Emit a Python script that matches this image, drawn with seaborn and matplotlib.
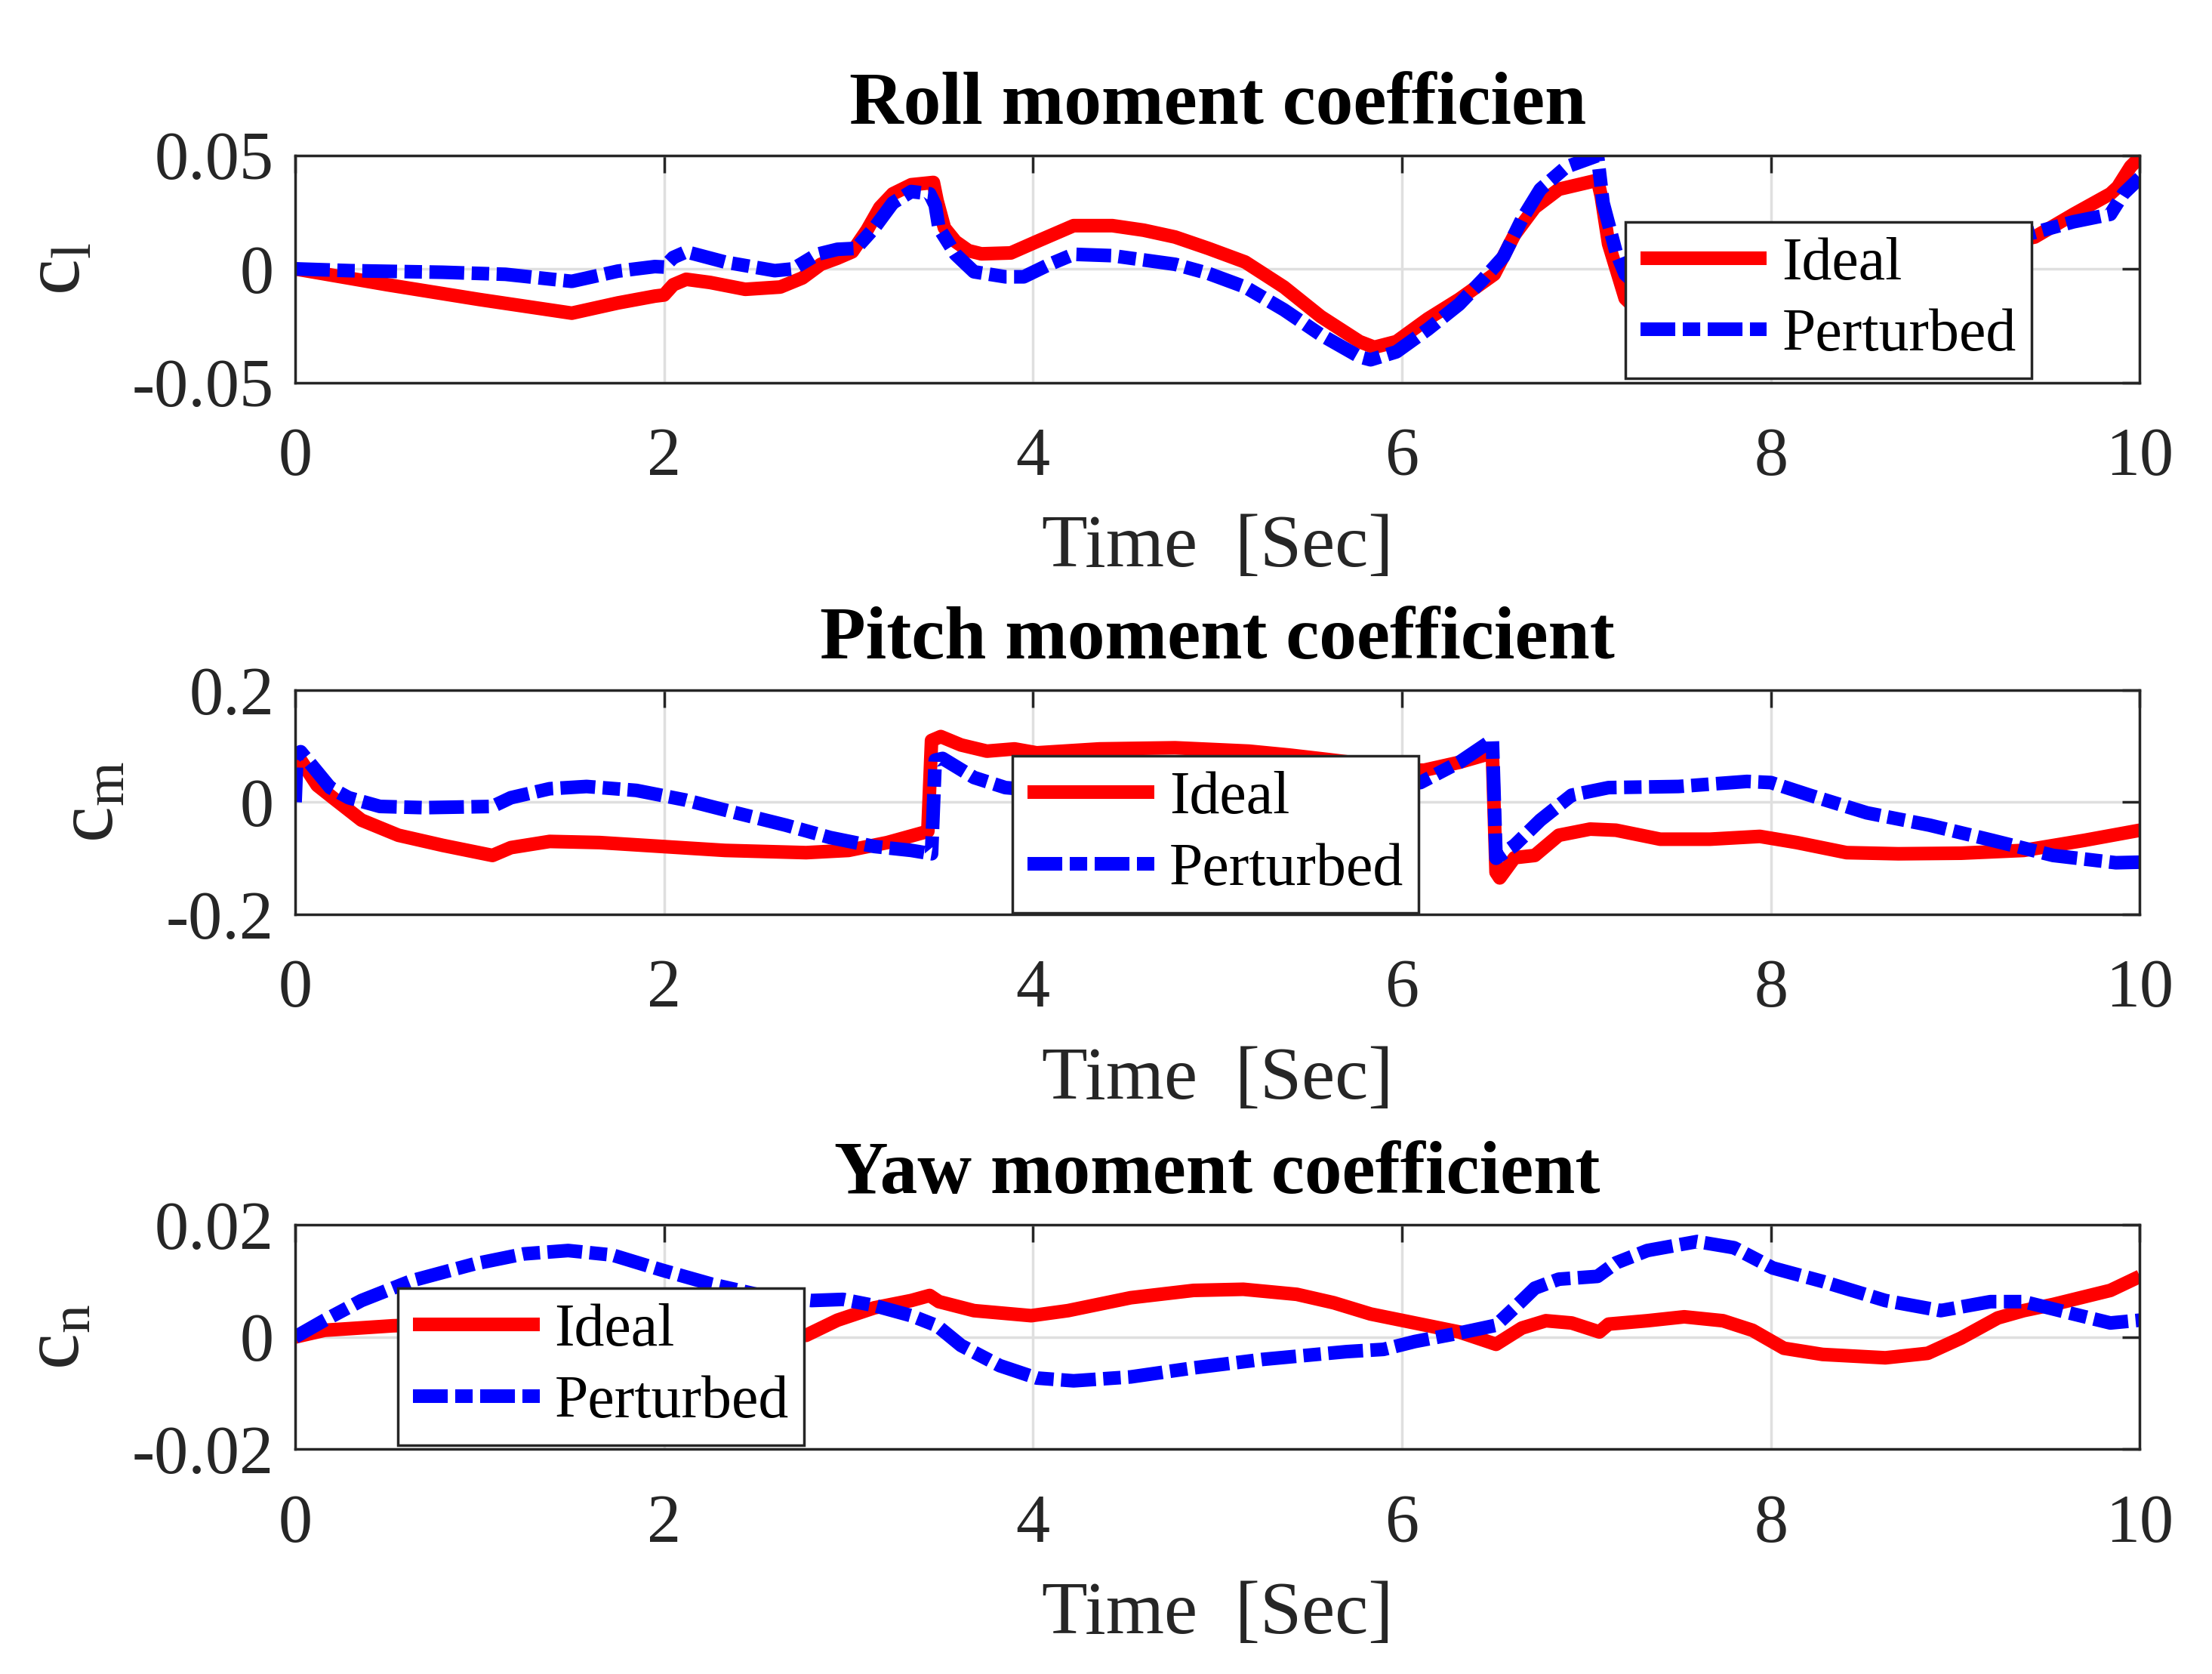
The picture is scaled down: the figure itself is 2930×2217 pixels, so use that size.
import numpy as np
import pandas as pd
import seaborn as sns
import matplotlib.pyplot as plt

# Roll moment coefficient (c_l)
roll_t_ideal = [0.0, 0.5, 1.0, 1.5, 1.75, 1.95, 2.0, 2.05, 2.12, 2.25, 2.44, 2.63, 2.75, 2.85, 2.94,
                3.02, 3.10, 3.17, 3.24, 3.34, 3.46, 3.48, 3.52, 3.58, 3.65, 3.72, 3.88, 4.02, 4.22,
                4.43, 4.6, 4.77, 4.95, 5.15, 5.36, 5.56, 5.77, 5.85, 5.97, 6.14, 6.31, 6.50, 6.61,
                6.72, 6.85, 7.06, 7.08, 7.12, 7.21, 7.3, 7.5, 8.0, 8.5, 9.0, 9.43, 9.64, 9.84, 9.88,
                9.95, 10.0]
roll_ideal = [0.0, -0.007, -0.0135, -0.0195, -0.015, -0.012, -0.0115, -0.007, -0.0046, -0.006,
              -0.009, -0.008, -0.004, 0.002, 0.0047, 0.0075, 0.017, 0.027, 0.033, 0.037, 0.038, 0.03,
              0.018, 0.012, 0.008, 0.0066, 0.007, 0.012, 0.019, 0.019, 0.017, 0.014, 0.009, 0.003,
              -0.008, -0.021, -0.032, -0.0345, -0.032, -0.022, -0.0134, -0.0024, 0.015, 0.027, 0.035,
              0.039, 0.032, 0.011, -0.013, -0.02, -0.021, -0.009, 0.0, 0.007, 0.014, 0.024, 0.033,
              0.036, 0.045, 0.049]
roll_t_pert = [0.0, 0.3, 0.8, 1.14, 1.5, 1.75, 1.95, 2.0, 2.05, 2.12, 2.33, 2.6, 2.7, 2.83, 2.94,
               3.04, 3.14, 3.24, 3.34, 3.44, 3.47, 3.49, 3.58, 3.68, 3.85, 3.95, 4.09, 4.22, 4.43,
               4.77, 4.95, 5.15, 5.36, 5.56, 5.77, 5.83, 5.97, 6.14, 6.31, 6.44, 6.55, 6.65, 6.75,
               6.89, 7.06, 7.09, 7.16, 7.21, 7.3, 7.6, 8.0, 8.5, 9.0, 9.43, 9.64, 9.84, 9.91, 10.0]
roll_pert = [0.0, -0.0008, -0.0015, -0.0024, -0.0055, -0.001, 0.001, 0.0008, 0.005, 0.0075, 0.003,
             -0.0008, 0.0, 0.0064, 0.0086, 0.009, 0.018, 0.029, 0.034, 0.033, 0.028, 0.018, 0.0064,
             -0.0013, -0.0035, -0.0035, 0.002, 0.0064, 0.0058, 0.002, -0.002, -0.008, -0.018, -0.029,
             -0.0387, -0.040, -0.0365, -0.0266, -0.0156, -0.0046, 0.0053, 0.0218, 0.035, 0.0448,
             0.0498, 0.029, 0.0075, -0.0024, -0.009, -0.010, -0.004, 0.003, 0.009, 0.016, 0.0207,
             0.024, 0.033, 0.040]

# Pitch moment coefficient (c_m)
pitch_t_ideal = [0.0, 0.03, 0.12, 0.22, 0.36, 0.56, 0.8, 1.07, 1.17, 1.38, 1.65, 1.99, 2.33, 2.77,
                 3.0, 3.21, 3.43, 3.45, 3.5, 3.61, 3.75, 3.9, 4.02, 4.36, 4.77, 5.17, 5.39, 5.6, 5.85,
                 6.0, 6.12, 6.31, 6.49, 6.51, 6.53, 6.61, 6.72, 6.85, 7.02, 7.16, 7.40, 7.67, 7.94,
                 8.14, 8.41, 8.69, 9.03, 9.37, 9.70, 10.0]
pitch_ideal = [0.065, 0.075, 0.03, 0.004, -0.032, -0.059, -0.077, -0.095, -0.081, -0.070, -0.072,
               -0.079, -0.086, -0.090, -0.086, -0.072, -0.052, 0.11, 0.117, 0.102, 0.091, 0.095,
               0.088, 0.095, 0.097, 0.091, 0.084, 0.076, 0.066, 0.058, 0.057, 0.071, 0.088, -0.125,
               -0.135, -0.099, -0.095, -0.059, -0.048, -0.05, -0.066, -0.066, -0.061, -0.072, -0.090,
               -0.092, -0.091, -0.086, -0.068, -0.05]
pitch_t_pert = [0.0, 0.01, 0.03, 0.09, 0.19, 0.29, 0.46, 0.7, 1.07, 1.17, 1.38, 1.58, 1.85, 2.12,
                2.39, 2.66, 2.9, 3.14, 3.34, 3.45, 3.47, 3.51, 3.68, 3.85, 4.2, 4.6, 5.0, 5.5, 5.9,
                6.1, 6.31, 6.49, 6.51, 6.61, 6.75, 6.92, 7.12, 7.5, 7.87, 8.0, 8.21, 8.52, 8.86, 9.2,
                9.53, 9.87, 10.0]
pitch_pert = [0.0, 0.085, 0.09, 0.066, 0.026, 0.008, -0.0076, -0.0098, -0.0076, 0.008, 0.024, 0.028,
              0.021, 0.0036, -0.019, -0.041, -0.063, -0.079, -0.086, -0.092, 0.075, 0.078, 0.044,
              0.026, 0.016, 0.012, 0.012, 0.018, 0.028, 0.035, 0.071, 0.111, -0.10, -0.077, -0.032,
              0.0125, 0.026, 0.028, 0.037, 0.035, 0.0125, -0.019, -0.041, -0.068, -0.095, -0.108,
              -0.107]

# Yaw moment coefficient (c_n)
yaw_t_ideal = [0.0, 0.16, 0.53, 1.0, 1.5, 2.0, 2.5, 2.77, 2.94, 3.14, 3.34, 3.44, 3.49, 3.68, 3.99,
               4.19, 4.53, 4.87, 5.14, 5.43, 5.63, 5.83, 6.04, 6.31, 6.51, 6.65, 6.78, 6.92, 7.07,
               7.12, 7.33, 7.53, 7.74, 7.9, 8.07, 8.28, 8.62, 8.85, 9.03, 9.23, 9.37, 9.53, 9.84, 10.0]
yaw_ideal = [0.0, 0.0012, 0.002, 0.0025, 0.0028, 0.0022, 0.001, 0.0003, 0.003, 0.0052, 0.0065, 0.0074,
             0.0063, 0.0047, 0.0038, 0.0047, 0.007, 0.0083, 0.0085, 0.0076, 0.0061, 0.0041, 0.0027,
             0.0009, -0.0013, 0.0016, 0.0029, 0.0025, 0.0009, 0.0023, 0.0029, 0.0036, 0.0029, 0.0012,
             -0.002, -0.0031, -0.0037, -0.0029, -0.0002, 0.0034, 0.0047, 0.0058, 0.0083, 0.0108]
yaw_t_pert = [0.0, 0.16, 0.36, 0.63, 0.97, 1.24, 1.48, 1.72, 1.99, 2.26, 2.53, 2.8, 2.97, 3.14, 3.34,
              3.48, 3.61, 3.82, 4.02, 4.22, 4.53, 4.87, 5.24, 5.7, 5.9, 6.07, 6.31, 6.51, 6.61, 6.72,
              6.85, 7.06, 7.16, 7.33, 7.6, 7.8, 8.01, 8.28, 8.62, 8.92, 9.19, 9.37, 9.64, 9.84, 10.0]
yaw_pert = [0.0, 0.003, 0.0065, 0.010, 0.013, 0.0148, 0.0154, 0.0146, 0.0119, 0.0094, 0.0074, 0.0065,
            0.0067, 0.0056, 0.0038, 0.002, -0.0015, -0.0051, -0.0073, -0.0078, -0.0071, -0.0055,
            -0.004, -0.0026, -0.0022, -0.0008, 0.0007, 0.0021, 0.0052, 0.0087, 0.0103, 0.0108, 0.0132,
            0.0154, 0.017, 0.0159, 0.0123, 0.0099, 0.0065, 0.0047, 0.0063, 0.0063, 0.0041, 0.0025,
            0.003]

titles = ['Roll moment coefficien', 'Pitch moment coefficient', 'Yaw moment coefficient']
ylabels = [r'$\mathrm{c_l}$', r'$\mathrm{c_m}$', r'$\mathrm{c_n}$']
ylims = [(-0.05, 0.05), (-0.2, 0.2), (-0.02, 0.02)]
yticks = [[-0.05, 0, 0.05], [-0.2, 0, 0.2], [-0.02, 0, 0.02]]
ytick_labels = [['-0.05', '0', '0.05'], ['-0.2', '0', '0.2'], ['-0.02', '0', '0.02']]
xticks = [0, 2, 4, 6, 8, 10]
xtick_labels = ['0', '2', '4', '6', '8', '10']
series_labels = ['Ideal', 'Perturbed']

sns.set_style('white')
plt.rcParams['font.family'] = ['Liberation Serif', 'DejaVu Serif']
plt.rcParams['mathtext.fontset'] = 'custom'
plt.rcParams['mathtext.rm'] = 'Liberation Serif'
plt.rcParams['mathtext.it'] = 'Liberation Serif:italic'

dark = '#262626'
lw = 5.2
dashdot = (0, (2.55, 0.55, 1.28, 0.55))
fig = plt.figure(figsize=(11.72, 8.868), dpi=250)

# 每个子图的位置 (figure fraction)
positions = [[0.1334, 0.7715, 0.834, 0.1358],
             [0.1334, 0.4538, 0.834, 0.1340],
             [0.1334, 0.1342, 0.834, 0.1342]]
legend_anchor = [(0.721, 0.018), (0.389, 0.007), (0.0557, 0.0185)]
label_x = [-0.1077, -0.0897, -0.108]

data = [
    (roll_t_ideal, roll_ideal, roll_t_pert, roll_pert),
    (pitch_t_ideal, pitch_ideal, pitch_t_pert, pitch_pert),
    (yaw_t_ideal, yaw_ideal, yaw_t_pert, yaw_pert),
]

for i, (ti, vi, tp, vp) in enumerate(data):
    ax = fig.add_axes(positions[i])
    sns.lineplot(x=ti, y=vi, ax=ax, color='#ff0000', label=series_labels[0],
                 estimator=None, sort=False)
    sns.lineplot(x=tp, y=vp, ax=ax, color='#0000ff', label=series_labels[1],
                 estimator=None, sort=False)
    # 线宽和线型在这里统一设置
    red_line, blue_line = ax.lines[0], ax.lines[1]
    red_line.set_linewidth(lw)
    red_line.set_solid_capstyle('butt')
    red_line.set_solid_joinstyle('round')
    blue_line.set_linewidth(lw)
    blue_line.set_linestyle(dashdot)
    blue_line.set_dash_capstyle('butt')

    ax.set_xlim(0, 10)
    ax.set_ylim(*ylims[i])
    ax.set_xticks(xticks)
    ax.set_xticklabels(xtick_labels)
    ax.set_yticks(yticks[i])
    ax.set_yticklabels(ytick_labels[i])
    ax.grid(True, color='#dfdfdf', linewidth=1.0)
    ax.set_axisbelow(True)
    ax.tick_params(direction='in', length=6.5, width=1.0, colors=dark, labelsize=26,
                   top=True, right=True)
    ax.tick_params(axis='x', pad=17)
    ax.tick_params(axis='y', pad=8)
    for s in ax.spines.values():
        s.set_color(dark)
        s.set_linewidth(1.0)
        s.set_visible(True)

    ax.set_title(titles[i], fontsize=28.6, fontweight='bold', color='black', pad=12)
    ax.set_xlabel('Time  [Sec]', fontsize=28.6, color=dark, labelpad=9.6)
    ax.set_ylabel(ylabels[i], fontsize=31, color=dark)
    ax.yaxis.set_label_coords(label_x[i], 0.5)

    leg = ax.legend(loc='lower left', bbox_to_anchor=legend_anchor[i], fontsize=23,
                    frameon=True, fancybox=False, framealpha=1, edgecolor=dark,
                    handlelength=2.1, handletextpad=0.25, borderaxespad=0, borderpad=0.25,
                    labelspacing=0.27)
    leg.get_frame().set_linewidth(1.0)
    for txt in leg.get_texts():
        txt.set_color('black')
    for h in leg.legend_handles:
        h.set_linewidth(lw)

fig.savefig('out.png', dpi=250, facecolor='white')
